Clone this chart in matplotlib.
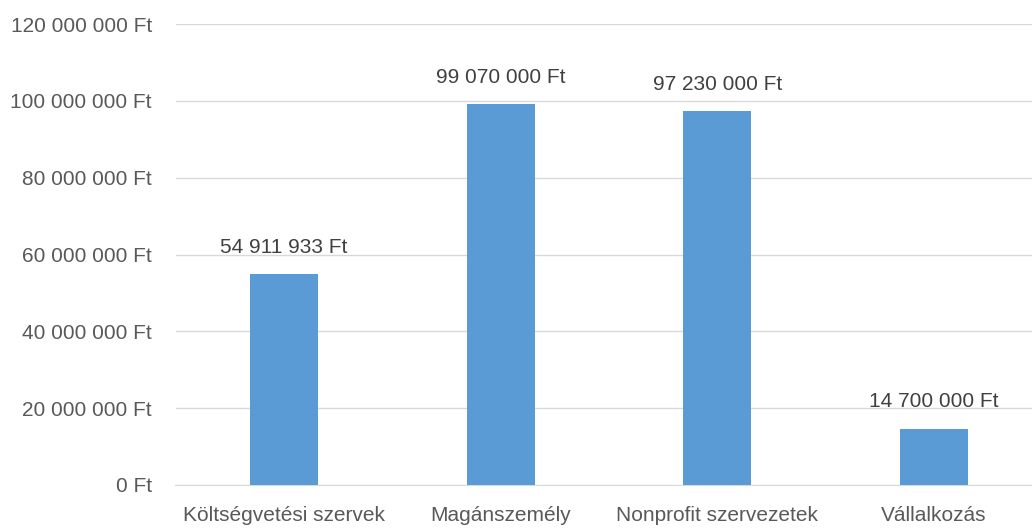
import matplotlib.pyplot as plt

categories = ["Költségvetési szervek", "Magánszemély", "Nonprofit szervezetek", "Vállalkozás"]
values = [54911933, 99070000, 97230000, 14700000]
yticks = [0, 20000000, 40000000, 60000000, 80000000, 100000000, 120000000]


def ft(v):
    return "{:,}".format(int(v)).replace(",", " ") + " Ft"


plt.rcParams['font.family'] = ['Liberation Sans', 'DejaVu Sans']
txt = '#595959'

fig = plt.figure(figsize=(10.32, 5.30), dpi=100)
ax = fig.add_axes([175.5 / 1032, 45 / 530, 867 / 1032, 461 / 530])

x = range(len(categories))
bars = ax.bar(x, values, width=0.313, color='#5B9BD5', zorder=3)
for b, v in zip(bars, values):
    ax.text(b.get_x() + b.get_width() / 2, v + 4500000, ft(v),
            ha='center', va='bottom', fontsize=15, color='#404040')

ax.set_xlim(-0.5, 3.5)
ax.set_ylim(0, 120000000)
ax.set_yticks(yticks)
ax.set_yticklabels([ft(t) for t in yticks])
ax.set_xticks(list(x))
ax.set_xticklabels(categories)
ax.tick_params(axis='both', length=0, labelsize=15, colors=txt)
ax.tick_params(axis='y', pad=17)
ax.tick_params(axis='x', pad=15)
ax.grid(axis='y', color='#D9D9D9', linewidth=1, zorder=0)
for s in ['top', 'right', 'left']:
    ax.spines[s].set_visible(False)
ax.spines['bottom'].set_color('#D9D9D9')

fig.savefig('out.png', dpi=100)
